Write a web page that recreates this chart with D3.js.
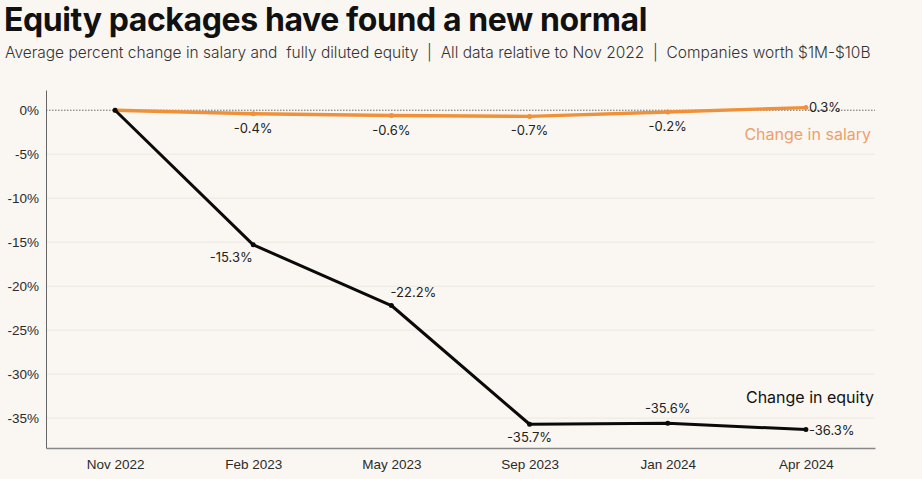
<!DOCTYPE html>
<html>
<head>
<meta charset="utf-8">
<title>Equity packages</title>
<script src="https://cdn.jsdelivr.net/npm/d3@7"></script>
<style>
  body{ margin:0; background:#faf7f2; }
  svg{ display:block; font-family:"Inter","Lato",sans-serif; }
  .grid line{ stroke:#ebe7e0; }
  .tick text{ fill:#2b2b2b; font-size:13.5px; }
</style>
</head>
<body>
<svg id="chart" width="922" height="479"></svg>
<script>
var months   = ['Nov 2022','Feb 2023','May 2023','Sep 2023','Jan 2024','Apr 2024'];
var salary   = [0, -0.4, -0.6, -0.7, -0.2, 0.3];
var equity   = [0, -15.3, -22.2, -35.7, -35.6, -36.3];
var yTicks   = [0, -5, -10, -15, -20, -25, -30, -35];

var mLeft = 46, mRight = 875, mTop = 90, mBottom = 448;

var svg = d3.select('#chart');

svg.append('text').attr('x', 4).attr('y', 31)
    .style('font-size', '32px').style('font-weight', 700).style('fill', '#111')
    .style('letter-spacing', '-0.4px')
    .text('Equity packages have found a new normal');

svg.append('text').attr('x', 5).attr('y', 58)
    .style('font-size', '15.5px').style('font-weight', 300).style('fill', '#333')
    .style('white-space', 'pre')
    .text('Average percent change in salary and  fully diluted equity  |  All data relative to Nov 2022  |  Companies worth $1M-$10B');

var x = d3.scalePoint().domain(months).range([mLeft, mRight]).padding(0.5);
var y = d3.scaleLinear().domain([-38.4, 2.3]).range([mBottom, mTop]);

// gridlines
svg.append('g').attr('class', 'grid')
    .selectAll('line').data(yTicks.filter(function(d){ return d !== 0; }))
    .enter().append('line')
    .attr('x1', mLeft).attr('x2', mRight)
    .attr('y1', function(d){ return y(d); }).attr('y2', function(d){ return y(d); });

svg.append('line')
    .attr('x1', mLeft).attr('x2', mRight).attr('y1', y(0)).attr('y2', y(0))
    .attr('stroke', '#444').attr('stroke-width', 0.8).attr('stroke-dasharray', '1.5,1.5');

var yAxis = svg.append('g').attr('transform', 'translate(' + mLeft + ',0)')
    .call(d3.axisLeft(y).tickValues(yTicks).tickSize(0).tickPadding(7)
        .tickFormat(function(d){ return d + '%'; }));
yAxis.select('.domain').attr('stroke', '#666');

var xAxis = svg.append('g').attr('transform', 'translate(0,' + mBottom + ')')
    .call(d3.axisBottom(x).tickSize(0).tickPadding(11));
xAxis.select('.domain').attr('stroke', '#888').attr('stroke-width', 1.5);

var line = d3.line()
    .x(function(d, i){ return x(months[i]); })
    .y(function(d){ return y(d); });

// place: [dx, dy, anchor] per point, label skipped for the first point
function series(data, color, w, place){
    svg.append('path').datum(data)
        .attr('fill', 'none').attr('stroke', color).attr('stroke-width', w)
        .attr('stroke-linejoin', 'round')
        .attr('d', line);
    svg.selectAll(null).data(data).enter().append('circle')
        .attr('cx', function(d, i){ return x(months[i]); })
        .attr('cy', function(d){ return y(d); })
        .attr('r', 2.5).attr('fill', color);
    var pts = data.map(function(d, i){ return {v:d, i:i}; }).slice(1);
    svg.selectAll(null).data(pts).enter().append('text')
        .attr('x', function(d){ return x(months[d.i]) + place[d.i][0]; })
        .attr('y', function(d){ return y(d.v) + place[d.i][1]; })
        .attr('text-anchor', function(d){ return place[d.i][2]; })
        .style('font-size', '13px').style('fill', '#222')
        .text(function(d){ return d.v.toFixed(1) + '%'; });
}

series(salary, '#f0913a', 3.3, [
    null, [0, 19, 'middle'], [0, 19, 'middle'],
    [0, 19, 'middle'], [0, 19, 'middle'], [3, 4, 'start']
]);
series(equity, '#0a0a0a', 3, [
    null, [-22, 17, 'middle'], [22, -9, 'middle'],
    [0, 18, 'middle'], [0, -10, 'middle'], [3, 5, 'start']
]);

svg.append('text').attr('x', 871).attr('y', 140).attr('text-anchor', 'end')
    .style('font-size', '16px').style('fill', '#eda06a').text('Change in salary');
svg.append('text').attr('x', 874).attr('y', 403).attr('text-anchor', 'end')
    .style('font-size', '16px').style('fill', '#111').text('Change in equity');
</script>
</body>
</html>
